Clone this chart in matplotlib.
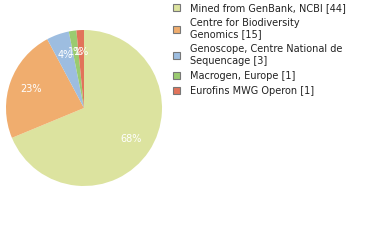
import matplotlib
matplotlib.use("Agg")
import matplotlib.pyplot as plt
from matplotlib.patches import Patch

# data
labels = [
    "Mined from GenBank, NCBI [44]",
    "Centre for Biodiversity\nGenomics [15]",
    "Genoscope, Centre National de\nSequencage [3]",
    "Macrogen, Europe [1]",
    "Eurofins MWG Operon [1]",
]
counts = [44, 15, 3, 1, 1]
colors = ["#dce39f", "#f0ad6e", "#9dbde0", "#9acb70", "#e2735a"]

fig = plt.figure(figsize=(3.8, 2.4), dpi=100)
ax = fig.add_axes([6 / 380, 54 / 240, 156 / 380, 156 / 240])

ax.pie(
    counts,
    colors=colors,
    startangle=90,
    counterclock=False,
    autopct=lambda p: f"{int(p)}%",
    pctdistance=0.72,
    textprops=dict(color="white", fontsize=7),
    wedgeprops=dict(linewidth=0),
)
ax.set_xlim(-1, 1)
ax.set_ylim(-1, 1)
ax.set_aspect("equal")

handles = [Patch(facecolor=c, edgecolor="#777777", linewidth=0.8) for c in colors]
fig.legend(
    handles, labels,
    loc="upper left",
    bbox_to_anchor=(172 / 380, 1 - 2 / 240),
    frameon=False,
    fontsize=7,
    handlelength=0.75,
    handleheight=0.75,
    handletextpad=1.0,
    labelspacing=0.5,
    borderaxespad=0,
    borderpad=0.1,
    labelcolor="#222222",
)

fig.savefig("out.png", dpi=100)
